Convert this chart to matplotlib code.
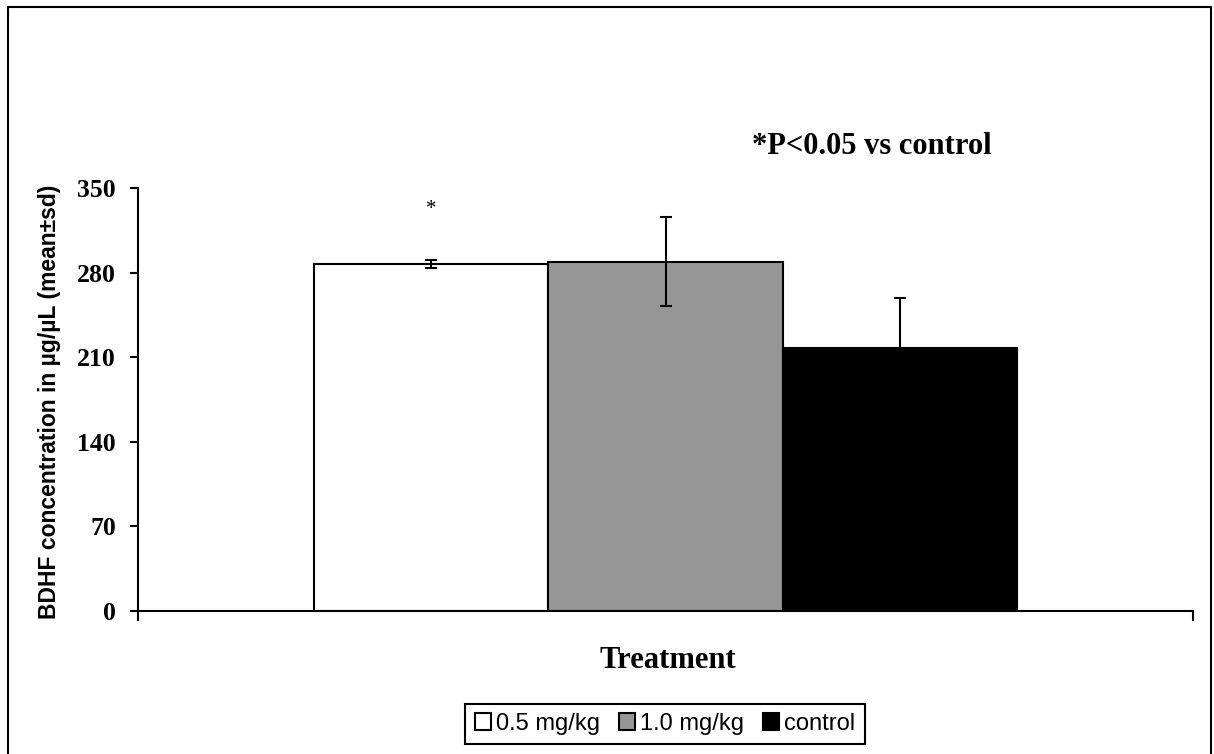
#Bar chart of BDHF concentration by treatment, with sd error bars
import numpy as np
import matplotlib
matplotlib.use("Agg")
import matplotlib.pyplot as plt
from matplotlib.patches import Rectangle

groups = ["0.5 mg/kg", "1.0 mg/kg", "control"]
means = [287, 289, 218]
sds = [3.5, 37, 41]
colours = ["white", "#969696", "black"]
y_ticks = [0, 70, 140, 210, 280, 350]
star_value = 332
note_text = "*P<0.05 vs control"

def main():
    fig = plt.figure(figsize = (12.14, 7.54), dpi = 100)
    fig.patch.set_facecolor("white")
    ax = fig.add_axes([138/1214, 1 - 611/754, 1055/1214, 423/754])

    x = np.arange(len(groups)) - 1
    handles = ax.bar(x, means, width = 1.0, color = colours,
        edgecolor = "black", linewidth = 1.5, label = groups)
    ax.errorbar(x, means, yerr = sds, fmt = "none", ecolor = "black",
        elinewidth = 1.5, capsize = 4.5, capthick = 1.5)

    ax.text(x[0], star_value, "*", ha = "center", va = "center",
        fontsize = 15, family = "Liberation Serif")

    ax.set_xlim(-2.25, 2.25)
    ax.set_ylim(0, 350)
    ax.set_yticks(y_ticks)
    ax.set_yticklabels([str(v) for v in y_ticks], family = "Liberation Serif",
        fontweight = "bold", fontsize = 18.5)
    ax.set_xticks([-2.25, 2.25])
    ax.set_xticklabels(["", ""])
    ax.tick_params(axis = "y", length = 6, width = 1.5, pad = 10)
    ax.tick_params(axis = "x", length = 7, width = 1.5)
    for s in ["top", "right"]:
        ax.spines[s].set_visible(False)
    for s in ["left", "bottom"]:
        ax.spines[s].set_linewidth(1.5)

    fig.text(50/1214, 1 - 402/754, "BDHF concentration in µg/µL (mean±sd)",
        rotation = 90, ha = "center", va = "center", fontsize = 16.5,
        fontweight = "bold", family = "Liberation Sans")
    fig.text(668/1214, 1 - 660/754, "Treatment", ha = "center", va = "center",
        fontsize = 22, fontweight = "bold", family = "Liberation Serif")
    fig.text(752/1214, 1 - 146/754, note_text, ha = "left", va = "center",
        fontsize = 22, fontweight = "bold", family = "Liberation Serif")

    leg = fig.legend(handles = list(handles), labels = groups, loc = "center",
        bbox_to_anchor = (665/1214, 1 - 724/754), ncol = 3, fancybox = False,
        edgecolor = "black", framealpha = 1, handlelength = 0.7,
        handleheight = 0.7, handletextpad = 0.2, columnspacing = 0.8,
        borderpad = 0.4, prop = {"family": "Liberation Sans", "size": 17})
    leg.get_frame().set_linewidth(1.5)

    fig.add_artist(Rectangle((8/1214, -0.1), 1203/1214, 1.1 - 7/754,
        transform = fig.transFigure, fill = False, edgecolor = "black",
        linewidth = 1.5))

    fig.savefig("out.png", dpi = 100)

if __name__ == "__main__":
    main()
